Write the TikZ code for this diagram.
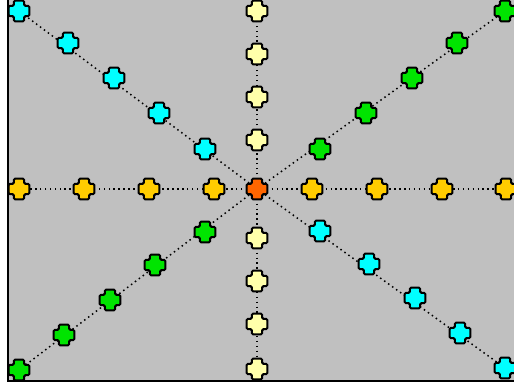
\documentclass[tikz,border=0pt]{standalone}
\definecolor{bggray}{RGB}{192,192,192}
\definecolor{pcyan}{RGB}{0,255,255}
\definecolor{pgreen}{RGB}{0,228,0}
\definecolor{pgold}{RGB}{255,204,0}
\definecolor{ppale}{RGB}{255,255,170}
\definecolor{porange}{RGB}{255,102,0}
\begin{document}
\begin{tikzpicture}[
  x=1pt, y=-1pt,
  ray/.style={line width=1.5pt, dash pattern=on 1.5pt off 3.4pt},
  frame/.style={draw=black, line width=2pt, fill=bggray},
  plussign/.pic={
    \filldraw[fill=#1, draw=black, line width=2pt, rounded corners=1.2pt]
      (-5.2,-10.3) -- (5.2,-10.3) -- (5.2,-5.2) -- (10.3,-5.2) -- (10.3,5.2) -- (5.2,5.2)
      -- (5.2,10.3) -- (-5.2,10.3) -- (-5.2,5.2) -- (-10.3,5.2) -- (-10.3,-5.2) -- (-5.2,-5.2) -- cycle;
  },
]
\useasboundingbox (0,0) rectangle (514,387);
\clip (0,0) rectangle (514,387);

% Background panel
\draw[frame] (8,-2) rectangle (518,381);

% Centre
\coordinate (c) at (257,189);

% Horizontal and vertical rays
\coordinate (w1) at (214,189); \coordinate (w2) at (149,189);
\coordinate (w3) at (84,189);  \coordinate (w4) at (19,189);
\coordinate (e1) at (312,189); \coordinate (e2) at (377,189);
\coordinate (e3) at (442,189); \coordinate (e4) at (506,189);
\coordinate (n1) at (257,140); \coordinate (n2) at (257,97);
\coordinate (n3) at (257,54);  \coordinate (n4) at (257,11);
\coordinate (s1) at (257,238); \coordinate (s2) at (257,281);
\coordinate (s3) at (257,324); \coordinate (s4) at (257,369);

% Diagonal rays
\coordinate (nw1) at (205,149); \coordinate (nw2) at (159,113);
\coordinate (nw3) at (114,78);  \coordinate (nw4) at (68,43);
\coordinate (nw5) at (19,11);
\coordinate (ne1) at (320,149); \coordinate (ne2) at (366,113);
\coordinate (ne3) at (412,78);  \coordinate (ne4) at (457,43);
\coordinate (ne5) at (505,11);
\coordinate (se1) at (320,231); \coordinate (se2) at (369,264);
\coordinate (se3) at (415,298); \coordinate (se4) at (460,333);
\coordinate (se5) at (505,368);
\coordinate (sw1) at (205,232); \coordinate (sw2) at (155,265);
\coordinate (sw3) at (110,300); \coordinate (sw4) at (64,335);
\coordinate (sw5) at (19,370);

% Dotted connectors
\draw[ray] (c) -- (w4);
\draw[ray] (c) -- (e4);
\draw[ray] (c) -- (n4);
\draw[ray] (c) -- (s4);
\draw[ray] (c) -- (nw5);
\draw[ray] (c) -- (ne5);
\draw[ray] (c) -- (se5);
\draw[ray] (c) -- (sw5);

% Crosses
\foreach \p in {w1,w2,w3,w4,e1,e2,e3,e4}
  \pic at (\p) {plussign=pgold};
\foreach \p in {n1,n2,n3,n4,s1,s2,s3,s4}
  \pic at (\p) {plussign=ppale};
\foreach \p in {nw1,nw2,nw3,nw4,nw5,se1,se2,se3,se4,se5}
  \pic at (\p) {plussign=pcyan};
\foreach \p in {ne1,ne2,ne3,ne4,ne5,sw1,sw2,sw3,sw4,sw5}
  \pic at (\p) {plussign=pgreen};
\pic at (c) {plussign=porange};

\end{tikzpicture}
\end{document}
